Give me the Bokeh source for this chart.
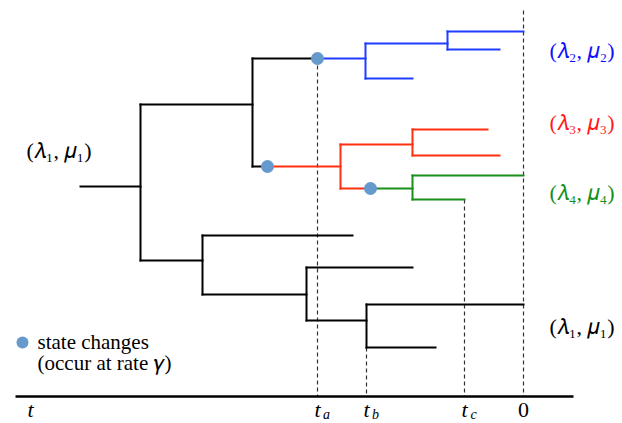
from bokeh.plotting import figure
from bokeh.models import ColumnDataSource, Range1d, Label
from bokeh.embed import file_html
from bokeh.resources import INLINE

W, H = 622, 423
FONT = "Liberation Serif"

# ---- tree geometry (time runs left -> right, present at x=523) ----
# horizontal branches: start, end, row, colour
h_x0 = [80, 140, 252, 252, 140, 202, 202, 306, 306, 366, 366,
        317, 365, 365, 447, 447,
        267, 340, 412, 412, 340,
        370, 412, 412]
h_x1 = [140, 252, 317, 267, 202, 352, 306, 412, 366, 523, 435,
        365, 447, 412, 523, 499,
        340, 412, 487, 499, 370,
        412, 523, 464]
h_y = [186, 104, 58, 166, 260, 235, 294, 267, 320, 304, 347,
       58, 43, 78, 31, 49,
       166, 144, 129, 155, 188,
       188, 175, 199]
h_col = ["black"] * 11 + ["blue"] * 5 + ["red"] * 5 + ["green"] * 3

# vertical connectors: node time, top row, bottom row, colour
v_x = [140, 252, 202, 306, 366, 365, 447, 340, 412, 412]
v_y0 = [104, 58, 235, 267, 304, 43, 31, 144, 129, 175]
v_y1 = [260, 166, 294, 320, 347, 78, 49, 188, 155, 199]
v_col = ["black"] * 5 + ["blue"] * 2 + ["red"] * 2 + ["green"]

palette = {"black": "#000000", "blue": "#1f3cff", "red": "#ff3010", "green": "#18901a"}

# state change events
ev_x = [317, 267, 370]
ev_y = [58, 166, 188]

# dashed time markers: time, top row
mark_x = [317, 366, 464, 523]
mark_top = [58, 347, 199, 10]
axis_y = 396
axis_x0, axis_x1 = 15, 573

# time labels
tlab_x = [317, 366, 464]
tlab_sub = ["a", "b", "c"]

# rate labels
rate_txt = ["(𝜆₂, 𝜇₂)", "(𝜆₃, 𝜇₃)", "(𝜆₄, 𝜇₄)", "(𝜆₁, 𝜇₁)"]
rate_y = [50, 122, 192, 326]
rate_col = ["#1010ff", "#ff1a1a", "#12901a", "#000000"]

legend_txt = ["state changes", "(occur at rate 𝛾)"]
legend_y = [341, 362]

p = figure(width=W, height=H, output_backend="svg", toolbar_location=None,
           x_range=Range1d(0, W), y_range=Range1d(H, 0),
           min_border=0, outline_line_color=None)
p.axis.visible = False
p.grid.visible = False

# dashed markers
p.segment(x0=mark_x, y0=mark_top, x1=mark_x, y1=[axis_y] * len(mark_x),
          line_color="#333333", line_width=1.2, line_dash="4 3")

hs = ColumnDataSource(dict(x0=h_x0, x1=h_x1, y=h_y, c=[palette[c] for c in h_col]))
vs = ColumnDataSource(dict(x=v_x, y0=v_y0, y1=v_y1, c=[palette[c] for c in v_col]))
p.segment(x0="x0", y0="y", x1="x1", y1="y", source=hs, line_color="c",
          line_width=2, line_cap="square")
p.segment(x0="x", y0="y0", x1="x", y1="y1", source=vs, line_color="c",
          line_width=2, line_cap="square")

# time axis
p.segment(x0=[axis_x0], y0=[axis_y], x1=[axis_x1], y1=[axis_y],
          line_color="black", line_width=2.5)

# events and legend marker
p.scatter(x=ev_x, y=ev_y, size=13, color="#6699cc", line_color=None)
p.scatter(x=[22], y=[342], size=12, color="#6699cc", line_color=None)


def lab(x, y, text, size, color="#000000", style="normal", align="left", base="middle"):
    p.add_layout(Label(x=x, y=y, text=text, text_font=FONT, text_font_size=size,
                       text_color=color, text_font_style=style, text_align=align,
                       text_baseline=base))


for t, yy in zip(legend_txt, legend_y):
    lab(37, yy, t, "21px")
lab(26, 150, "(𝜆₁, 𝜇₁)", "22px")
for t, yy, cc in zip(rate_txt, rate_y, rate_col):
    lab(549, yy, t, "22px", color=cc)

for xx in [30] + tlab_x:
    lab(xx, 409, "t", "22px", style="italic", align="center", base="alphabetic")
for xx, s in zip(tlab_x, tlab_sub):
    lab(xx + 9, 414, s, "14px", style="italic", align="center", base="alphabetic")
lab(523, 409, "0", "22px", align="center", base="alphabetic")

open("out.html", "w").write(file_html(p, INLINE))
